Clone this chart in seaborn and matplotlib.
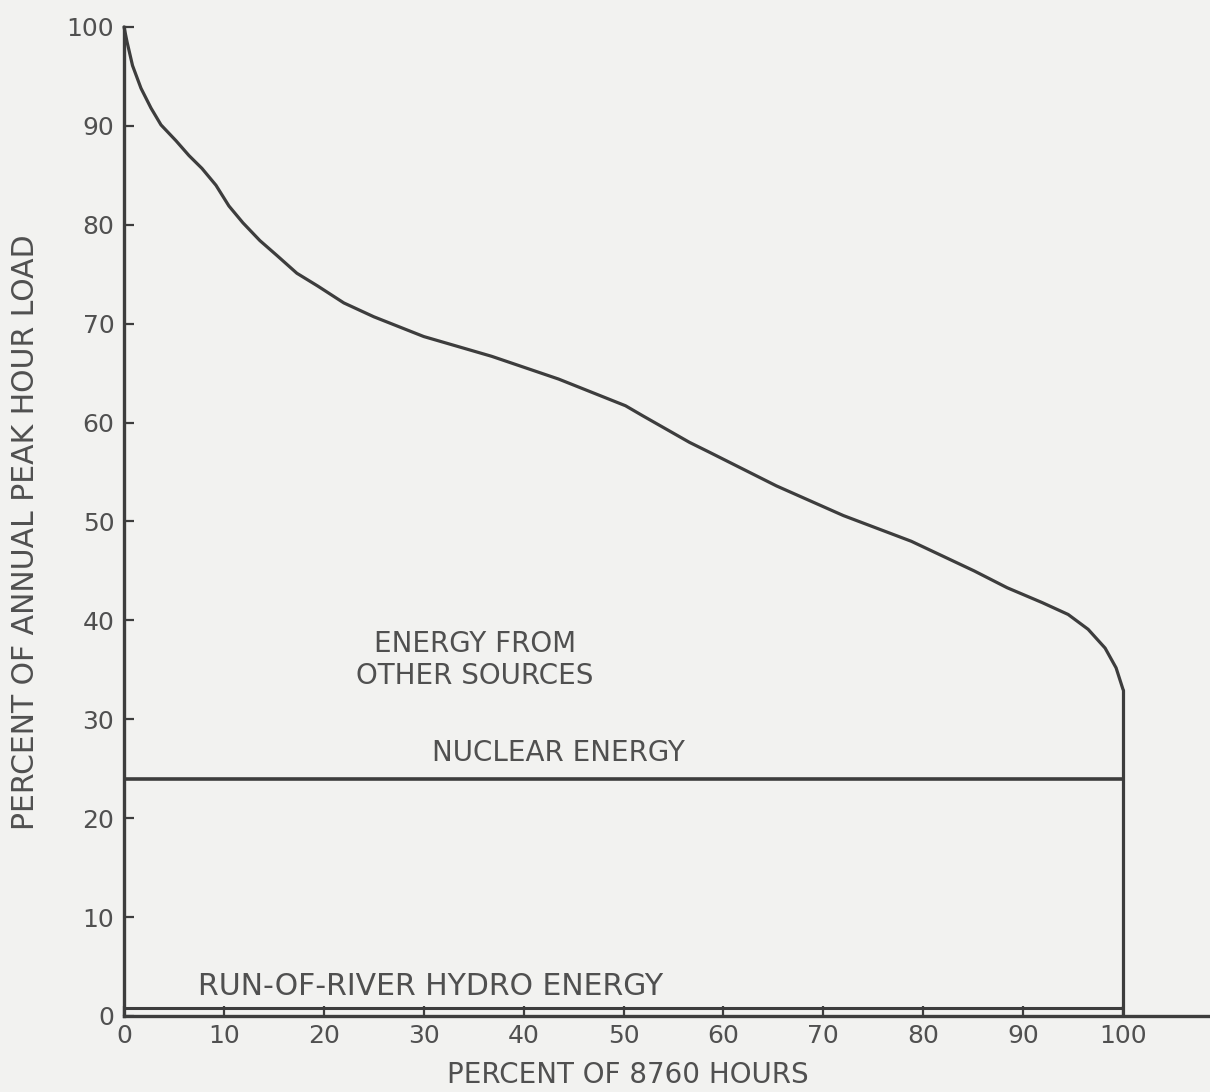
import matplotlib
matplotlib.use("Agg")
import matplotlib.pyplot as plt
import seaborn as sns
import pandas as pd

# Annual load duration curve (percent of 8760 hours vs percent of peak load)
hours_pct = [0, 0.3, 0.85, 1.7, 2.7, 3.7, 5.2, 6.5, 7.8, 9.2, 10.5, 11.9,
             13.6, 15.3, 17.3, 19.4, 22.0, 25.0, 30.0, 36.8, 43.5, 50.2,
             51.9, 56.6, 58.6, 65.3, 72.0, 78.8, 85.1, 88.4, 91.9, 94.5,
             96.5, 98.2, 99.3, 100]
load_pct = [100, 98.5, 96.1, 93.8, 91.8, 90.1, 88.5, 87.0, 85.7, 84.0, 81.9, 80.2,
            78.4, 76.9, 75.1, 73.8, 72.1, 70.7, 68.7, 66.7, 64.4, 61.7,
            60.7, 58.0, 57.0, 53.6, 50.6, 48.0, 45.0, 43.3, 41.8, 40.6,
            39.1, 37.2, 35.2, 33.0]

# Block levels for the generating sources
nuclear_level = 24.0
hydro_level = 0.8
block_span = [0, 100]

x_ticks = [0, 10, 20, 30, 40, 50, 60, 70, 80, 90, 100]
y_ticks = [0, 10, 20, 30, 40, 50, 60, 70, 80, 90, 100]

ink = "#3d3d3d"
text_ink = "#505050"
paper = "#f2f2f0"

sns.set_style("ticks")
plt.rcParams["font.family"] = ["DejaVu Sans"]

fig = plt.figure(figsize=(12.10, 10.92), dpi=100, facecolor=paper)
ax = fig.add_axes([0.1025, 0.0696, 0.8975, 0.9057])
ax.set_facecolor(paper)

line_kw = dict(ax=ax, color=ink, estimator=None, sort=False,
               solid_joinstyle="round", solid_capstyle="round")

curve = pd.DataFrame({"hours": hours_pct, "load": load_pct})
sns.lineplot(data=curve, x="hours", y="load", lw=2.3, clip_on=False, **line_kw)

# Nuclear and run-of-river hydro bands
nuc = pd.DataFrame({"hours": block_span, "load": [nuclear_level] * 2})
sns.lineplot(data=nuc, x="hours", y="load", lw=2.6, **line_kw)
hyd = pd.DataFrame({"hours": block_span, "load": [hydro_level] * 2})
sns.lineplot(data=hyd, x="hours", y="load", lw=2.2, **line_kw)

# Closing vertical at the end of the year
end = pd.DataFrame({"hours": [block_span[1]] * 2, "load": [0, load_pct[-1]]})
sns.lineplot(data=end, x="hours", y="load", lw=2.3, **line_kw)

ax.set_xlim(0, 108.7)
ax.set_ylim(0, 100)
ax.set_xticks(x_ticks)
ax.set_yticks(y_ticks)
ax.set_xticklabels([str(t) for t in x_ticks])
ax.set_yticklabels([str(t) for t in y_ticks])

for side in ("top", "right"):
    ax.spines[side].set_visible(False)
for side in ("left", "bottom"):
    ax.spines[side].set_color(ink)
    ax.spines[side].set_linewidth(2.4)

ax.tick_params(axis="both", direction="in", length=7, width=1.6, color=ink,
               labelsize=18, labelcolor=text_ink)
ax.tick_params(axis="y", pad=7)
ax.tick_params(axis="x", pad=6)

ax.set_xlabel("PERCENT OF 8760 HOURS", fontsize=20, color=text_ink)
ax.xaxis.set_label_coords(0.464, -0.046)
ax.set_ylabel("PERCENT OF ANNUAL PEAK HOUR LOAD", fontsize=21.5, color=text_ink)
ax.yaxis.set_label_coords(-0.077, 0.489)

ax.text(35.1, 36.0, "ENERGY FROM\nOTHER SOURCES", ha="center", va="center",
        fontsize=20, color=text_ink, linespacing=1.2)
ax.text(43.5, 26.6, "NUCLEAR ENERGY", ha="center", va="center",
        fontsize=20, color=text_ink)
ax.text(30.7, 3.0, "RUN-OF-RIVER HYDRO ENERGY", ha="center", va="center",
        fontsize=21.5, color=text_ink)

fig.savefig("out.png", dpi=100, facecolor=paper)
